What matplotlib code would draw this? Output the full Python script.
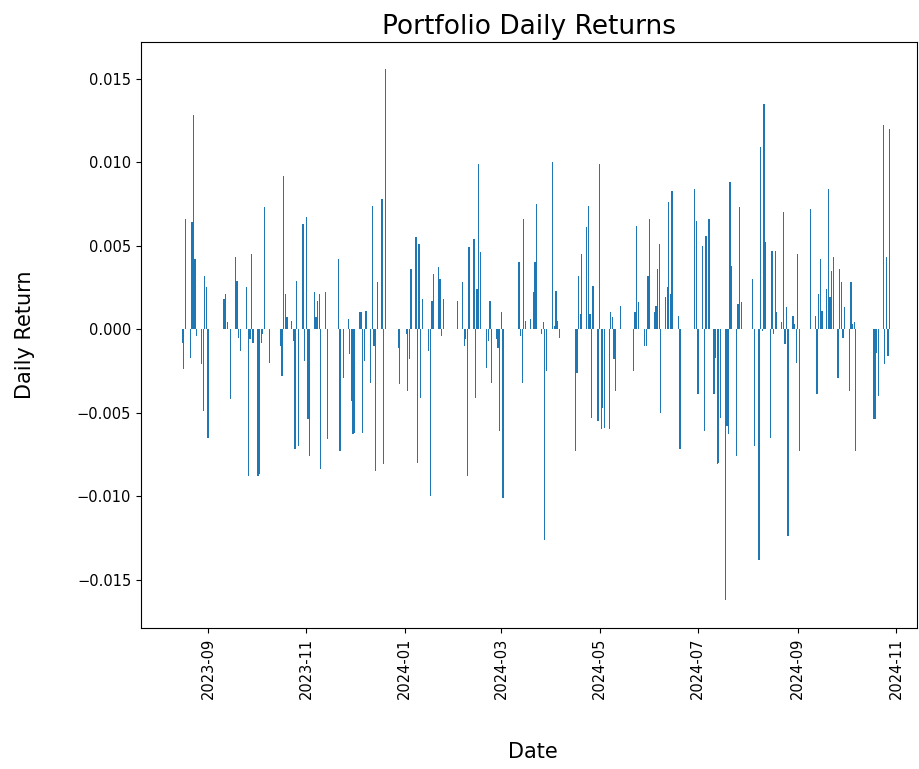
import matplotlib
matplotlib.use("Agg")
import matplotlib.pyplot as plt
import matplotlib.dates as mdates
import pandas as pd

# daily returns (days with no visible bar left out)
DATES_2023 = [
    "2023-08-16", "2023-08-17", "2023-08-18", "2023-08-21", "2023-08-22", "2023-08-23",
    "2023-08-24", "2023-08-25", "2023-08-28", "2023-08-29", "2023-08-30", "2023-08-31",
    "2023-09-01", "2023-09-11", "2023-09-12", "2023-09-13", "2023-09-15", "2023-09-18",
    "2023-09-19", "2023-09-20", "2023-09-21", "2023-09-25", "2023-09-26", "2023-09-27",
    "2023-09-28", "2023-09-29", "2023-10-02", "2023-10-03", "2023-10-04", "2023-10-05",
    "2023-10-06", "2023-10-09", "2023-10-16", "2023-10-17", "2023-10-18", "2023-10-19",
    "2023-10-20", "2023-10-23", "2023-10-24", "2023-10-25", "2023-10-26", "2023-10-27",
    "2023-10-30", "2023-10-31", "2023-11-01", "2023-11-02", "2023-11-03", "2023-11-06",
    "2023-11-07", "2023-11-08", "2023-11-09", "2023-11-10", "2023-11-13", "2023-11-14",
    "2023-11-21", "2023-11-22", "2023-11-24", "2023-11-27", "2023-11-28", "2023-11-29",
    "2023-11-30", "2023-12-01", "2023-12-04", "2023-12-05", "2023-12-06", "2023-12-07",
    "2023-12-08", "2023-12-11", "2023-12-12", "2023-12-13", "2023-12-14", "2023-12-15",
    "2023-12-18", "2023-12-19", "2023-12-20", "2023-12-28", "2023-12-29",
]
RETURNS_2023 = [
    -0.0008, -0.0024, 0.0066, -0.0017, 0.0064, 0.0128,
    0.0042, -0.0004, -0.0021, -0.0049, 0.0032, 0.0025,
    -0.0065, 0.0018, 0.0021, 0.0004, -0.0042, 0.0043,
    0.0029, -0.0005, -0.0013, 0.0025, -0.0088, -0.0006,
    0.0045, -0.0008, -0.0088, -0.0087, -0.0008, -0.0003,
    0.0073, -0.0020, -0.0010, -0.0028, 0.0092, 0.0021,
    0.0007, 0.0005, -0.0007, -0.0072, 0.0029, -0.0070,
    0.0063, -0.0019, 0.0067, -0.0054, -0.0076, 0.0022,
    0.0007, 0.0017, 0.0021, -0.0084, 0.0022, -0.0066,
    0.0042, -0.0073, -0.0029, 0.0006, -0.0015, -0.0043,
    -0.0063, -0.0062, 0.0010, 0.0010, -0.0062, -0.0019,
    0.0011, -0.0032, 0.0074, -0.0010, -0.0085, 0.0028,
    0.0078, -0.0081, 0.0156, -0.0011, -0.0033,
]

DATES_2024 = [
    "2024-01-02", "2024-01-03", "2024-01-04", "2024-01-05", "2024-01-08", "2024-01-09",
    "2024-01-10", "2024-01-11", "2024-01-12", "2024-01-16", "2024-01-17", "2024-01-18",
    "2024-01-19", "2024-01-22", "2024-01-23", "2024-01-24", "2024-01-25", "2024-02-03",
    "2024-02-06", "2024-02-07", "2024-02-08", "2024-02-09", "2024-02-10", "2024-02-13",
    "2024-02-14", "2024-02-15", "2024-02-16", "2024-02-17", "2024-02-21", "2024-02-22",
    "2024-02-23", "2024-02-24", "2024-02-27", "2024-02-28", "2024-02-29", "2024-03-01",
    "2024-03-02", "2024-03-12", "2024-03-13", "2024-03-14", "2024-03-15", "2024-03-16",
    "2024-03-19", "2024-03-21", "2024-03-22", "2024-03-23", "2024-03-26", "2024-03-27",
    "2024-03-28", "2024-03-29", "2024-04-02", "2024-04-03", "2024-04-04", "2024-04-05",
    "2024-04-06", "2024-04-16", "2024-04-17", "2024-04-18", "2024-04-19", "2024-04-20",
    "2024-04-23", "2024-04-24", "2024-04-25", "2024-04-26", "2024-04-27", "2024-04-30",
    "2024-05-01", "2024-05-02", "2024-05-03", "2024-05-04", "2024-05-07", "2024-05-08",
    "2024-05-09", "2024-05-10", "2024-05-11", "2024-05-14", "2024-05-22", "2024-05-23",
    "2024-05-24", "2024-05-25", "2024-05-29", "2024-05-30", "2024-05-31", "2024-06-01",
    "2024-06-04", "2024-06-05", "2024-06-06", "2024-06-07", "2024-06-08", "2024-06-11",
    "2024-06-12", "2024-06-13", "2024-06-14", "2024-06-15", "2024-06-19", "2024-06-20",
    "2024-06-29", "2024-06-30", "2024-07-01", "2024-07-04", "2024-07-05", "2024-07-06",
    "2024-07-08", "2024-07-11", "2024-07-12", "2024-07-13", "2024-07-14", "2024-07-15",
    "2024-07-18", "2024-07-19", "2024-07-20", "2024-07-21", "2024-07-22", "2024-07-25",
    "2024-07-26", "2024-07-27", "2024-07-28", "2024-08-04", "2024-08-05", "2024-08-08",
    "2024-08-09", "2024-08-10", "2024-08-11", "2024-08-12", "2024-08-15", "2024-08-16",
    "2024-08-17", "2024-08-18", "2024-08-19", "2024-08-22", "2024-08-23", "2024-08-24",
    "2024-08-25", "2024-08-26", "2024-08-29", "2024-08-30", "2024-08-31", "2024-09-01",
    "2024-09-02", "2024-09-09", "2024-09-12", "2024-09-13", "2024-09-14", "2024-09-15",
    "2024-09-16", "2024-09-19", "2024-09-20", "2024-09-21", "2024-09-22", "2024-09-23",
    "2024-09-26", "2024-09-27", "2024-09-28", "2024-09-29", "2024-09-30", "2024-10-03",
    "2024-10-04", "2024-10-05", "2024-10-06", "2024-10-07", "2024-10-18", "2024-10-19",
    "2024-10-20", "2024-10-21", "2024-10-24", "2024-10-25", "2024-10-26", "2024-10-27",
    "2024-10-28",
]
RETURNS_2024 = [
    -0.0003, -0.0037, -0.0018, 0.0036, 0.0055, -0.0080,
    0.0051, -0.0041, 0.0018, -0.0013, -0.0100, 0.0017,
    0.0033, 0.0037, 0.0030, -0.0004, 0.0018, 0.0017,
    0.0028, -0.0010, -0.0006, -0.0088, 0.0049, 0.0054,
    -0.0041, 0.0024, 0.0099, 0.0046, -0.0023, -0.0007,
    0.0017, -0.0032, -0.0006, -0.0011, -0.0061, 0.0010,
    -0.0101, 0.0040, -0.0004, -0.0032, 0.0066, 0.0005,
    0.0006, 0.0022, 0.0040, 0.0075, -0.0003, 0.0004,
    -0.0126, -0.0025, 0.0100, 0.0002, 0.0023, 0.0005,
    -0.0005, -0.0073, -0.0026, 0.0032, 0.0009, 0.0045,
    0.0061, 0.0074, 0.0009, -0.0053, 0.0026, -0.0055,
    0.0099, -0.0060, -0.0047, -0.0059, -0.0060, 0.0010,
    0.0007, -0.0018, -0.0037, 0.0014, -0.0025, 0.0010,
    0.0062, 0.0016, -0.0010, -0.0010, 0.0032, 0.0066,
    0.0010, 0.0014, 0.0036, 0.0051, -0.0050, 0.0019,
    0.0025, 0.0076, 0.0021, 0.0083, 0.0008, -0.0072,
    0.0084, 0.0065, -0.0039, 0.0050, -0.0061, 0.0056,
    0.0066, -0.0039, -0.0017, -0.0081, -0.0080, -0.0053,
    -0.0162, -0.0058, -0.0063, 0.0088, 0.0038, -0.0076,
    0.0015, 0.0073, 0.0016, 0.0030, -0.0070, -0.0138,
    0.0109, -0.0001, 0.0135, 0.0052, -0.0065, 0.0047,
    -0.0003, 0.0047, 0.0010, 0.0004, 0.0070, -0.0009,
    0.0013, -0.0124, 0.0008, 0.0003, -0.0020, 0.0045,
    -0.0073, 0.0072, 0.0008, -0.0039, 0.0021, 0.0042,
    0.0011, 0.0024, 0.0084, 0.0019, 0.0035, 0.0043,
    -0.0029, 0.0036, 0.0028, -0.0005, 0.0013, -0.0037,
    0.0028, 0.0003, 0.0004, -0.0073, -0.0054, -0.0054,
    -0.0014, -0.0040, 0.0122, -0.0021, 0.0043, -0.0016,
    0.0120,
]

X_LIMITS = ("2023-07-21 10:00", "2024-11-14")


def load_returns() -> pd.Series:
    dates = pd.to_datetime(DATES_2023 + DATES_2024)
    return pd.Series(RETURNS_2023 + RETURNS_2024, index=dates)


def main() -> None:
    returns = load_returns()

    fig = plt.figure(figsize=(9.19, 7.69), dpi=100)
    ax = fig.add_axes([141 / 919, 141 / 769, 776 / 919, 586 / 769])
    ax.bar(returns.index, returns.values)

    ax.set_title("Portfolio Daily Returns", fontsize=19)
    ax.set_xlabel("Date", fontsize=15)
    ax.set_ylabel("Daily Return", fontsize=15)
    ax.yaxis.set_label_coords(-0.137, 0.5)
    ax.xaxis.set_label_coords(0.505, -0.195)
    ax.set_ylim(-0.0179, 0.0172)
    ax.set_xlim(pd.Timestamp(X_LIMITS[0]), pd.Timestamp(X_LIMITS[1]))

    ax.xaxis.set_major_locator(mdates.MonthLocator(bymonth=[1, 3, 5, 7, 9, 11]))
    ax.xaxis.set_major_formatter(mdates.DateFormatter("%Y-%m"))
    ax.tick_params(labelsize=10.5)
    plt.setp(ax.get_xticklabels(), rotation=90)

    fig.savefig("out.png")


if __name__ == "__main__":
    main()
